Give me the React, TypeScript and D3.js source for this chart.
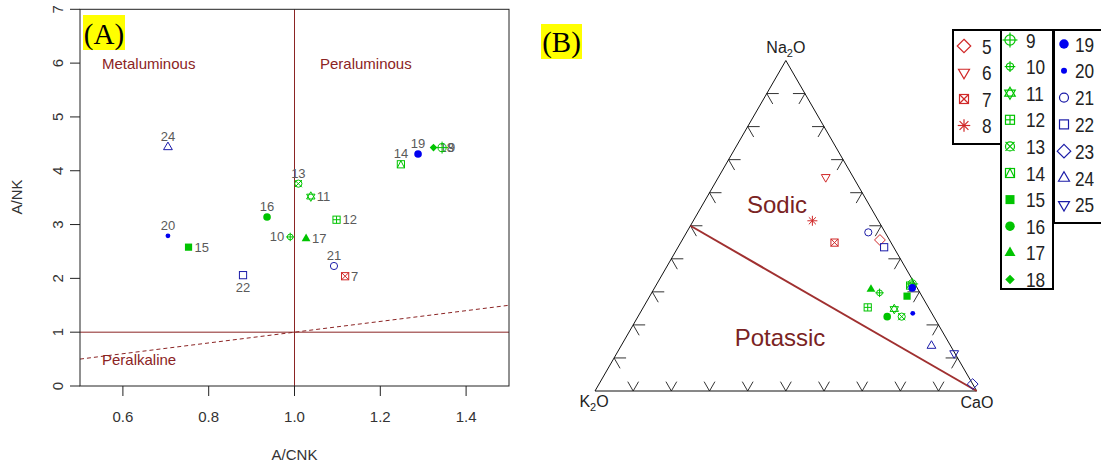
import React from "react";
import * as d3 from "d3";

// ---------- Panel A data (A/CNK vs A/NK) ----------
const samplesA = [24, 20, 15, 22, 16, 10, 13, 11, 17, 12, 21, 7, 14, 19, 18, 9];
const acnkA = [0.705, 0.705, 0.753, 0.88, 0.936, 0.99, 1.009, 1.038, 1.027, 1.098, 1.092, 1.118, 1.248, 1.288, 1.324, 1.344];
const ankA = [4.44, 2.79, 2.58, 2.06, 3.14, 2.77, 3.76, 3.52, 2.74, 3.09, 2.23, 2.04, 4.12, 4.31, 4.43, 4.43];
const xTicksA = [0.6, 0.8, 1.0, 1.2, 1.4];
const yTicksA = [0, 1, 2, 3, 4, 5, 6, 7];

// ---------- Panel B data (ternary Na2O - K2O - CaO) ----------
const samplesB = [5, 6, 7, 8, 9, 10, 11, 12, 13, 14, 15, 16, 17, 18, 19, 20, 21, 22, 23, 24, 25];
const na2oB = [0.457, 0.647, 0.449, 0.515, 0.324, 0.297, 0.248, 0.253, 0.225, 0.319, 0.287, 0.225, 0.308, 0.316, 0.312, 0.235, 0.48, 0.435, 0.021, 0.137, 0.114];
const k2oB = [0.025, 0.072, 0.148, 0.173, 0.007, 0.106, 0.092, 0.159, 0.084, 0.015, 0.039, 0.122, 0.123, 0.009, 0.013, 0.05, 0.044, 0.025, 0.0, 0.05, 0.002];
const caoB = [0.518, 0.281, 0.403, 0.312, 0.669, 0.597, 0.66, 0.588, 0.691, 0.666, 0.674, 0.653, 0.569, 0.675, 0.675, 0.715, 0.476, 0.54, 0.979, 0.813, 0.884];
const ternTicks = [0.1, 0.2, 0.3, 0.4, 0.5, 0.6, 0.7, 0.8, 0.9];

const legendGroups = [
  [5, 6, 7, 8],
  [9, 10, 11, 12, 13, 14, 15, 16, 17, 18],
  [19, 20, 21, 22, 23, 24, 25],
];

// label placement in panel A (R-style pos: 1 below, 2 left, 3 above, 4 right)
const labelPosA: Record<number, number> = {
  24: 3, 20: 3, 15: 4, 22: 1, 16: 3, 10: 2, 13: 3, 11: 4, 17: 4, 12: 4, 21: 3, 7: 4, 14: 3, 19: 3, 18: 4, 9: 4,
};

const RED = "#D02828";
const GREEN = "#00C400";
const BLUE = "#0000F0";
const NAVY = "#1C1CA8";
const DARKRED = "#8B2424";

function colorOf(s: number) {
  if (s <= 8) return RED;
  if (s <= 18) return GREEN;
  if (s <= 20) return BLUE;
  return NAVY;
}

function Sym({ pch, x, y, s, color, sw = 1 }: { pch: number; x: number; y: number; s: number; color: string; sw?: number }) {
  const r = s / 2;
  const common = { stroke: color, strokeWidth: sw, fill: "none" } as any;
  const poly = (pts: number[][]) => pts.map((p) => `${x + p[0]},${y + p[1]}`).join(" ");
  const up = [[0, -r * 1.25], [r * 1.1, r * 0.65], [-r * 1.1, r * 0.65]];
  const down = [[-r * 1.1, -r * 0.65], [r * 1.1, -r * 0.65], [0, r * 1.25]];
  const dia = (k: number) => [[0, -r * k], [r * k, 0], [0, r * k], [-r * k, 0]];
  const sq = (k: number) => <rect x={x - r * k} y={y - r * k} width={2 * r * k} height={2 * r * k} {...common} />;
  switch (pch) {
    case 5:
    case 23:
      return <polygon points={poly(dia(1.35))} {...common} />;
    case 6:
    case 25:
      return <polygon points={poly(down)} {...common} />;
    case 24:
      return <polygon points={poly(up)} {...common} />;
    case 7:
      return (
        <g>
          {sq(0.9)}
          <line x1={x - r * 0.9} y1={y - r * 0.9} x2={x + r * 0.9} y2={y + r * 0.9} {...common} />
          <line x1={x - r * 0.9} y1={y + r * 0.9} x2={x + r * 0.9} y2={y - r * 0.9} {...common} />
        </g>
      );
    case 8: {
      const L = r * 1.25;
      return (
        <g>
          {[0, 45, 90, 135].map((a) => {
            const t = (a * Math.PI) / 180;
            return <line key={a} x1={x - L * Math.cos(t)} y1={y - L * Math.sin(t)} x2={x + L * Math.cos(t)} y2={y + L * Math.sin(t)} {...common} />;
          })}
        </g>
      );
    }
    case 9:
    case 10: {
      const k = pch === 9 ? 1.2 : 0.85;
      return (
        <g>
          <circle cx={x} cy={y} r={r * k * 0.85} {...common} />
          <line x1={x - r * k * 1.25} y1={y} x2={x + r * k * 1.25} y2={y} {...common} />
          <line x1={x} y1={y - r * k * 1.25} x2={x} y2={y + r * k * 1.25} {...common} />
        </g>
      );
    }
    case 11:
      return (
        <g>
          <polygon points={poly([[0, -r * 1.2], [r * 1.05, r * 0.6], [-r * 1.05, r * 0.6]])} {...common} />
          <polygon points={poly([[0, r * 1.2], [r * 1.05, -r * 0.6], [-r * 1.05, -r * 0.6]])} {...common} />
        </g>
      );
    case 12:
      return (
        <g>
          {sq(0.9)}
          <line x1={x - r * 0.9} y1={y} x2={x + r * 0.9} y2={y} {...common} />
          <line x1={x} y1={y - r * 0.9} x2={x} y2={y + r * 0.9} {...common} />
        </g>
      );
    case 13:
      return (
        <g>
          <circle cx={x} cy={y} r={r * 0.9} {...common} />
          <line x1={x - r * 0.9} y1={y - r * 0.9} x2={x + r * 0.9} y2={y + r * 0.9} {...common} />
          <line x1={x - r * 0.9} y1={y + r * 0.9} x2={x + r * 0.9} y2={y - r * 0.9} {...common} />
        </g>
      );
    case 14:
      return (
        <g>
          {sq(0.9)}
          <polyline points={poly([[-r * 0.9, r * 0.9], [0, -r * 0.9], [r * 0.9, r * 0.9]])} {...common} />
        </g>
      );
    case 15:
      return <rect x={x - r * 0.9} y={y - r * 0.9} width={1.8 * r} height={1.8 * r} fill={color} />;
    case 16:
    case 19:
      return <circle cx={x} cy={y} r={r * 0.95} fill={color} />;
    case 17:
      return <polygon points={poly(up)} fill={color} />;
    case 18:
      return <polygon points={poly(dia(0.95))} fill={color} />;
    case 20:
      return <circle cx={x} cy={y} r={r * 0.6} fill={color} />;
    case 21:
      return <circle cx={x} cy={y} r={r * 0.9} {...common} />;
    case 22:
      return sq(0.9);
    default:
      return <circle cx={x} cy={y} r={r} {...common} />;
  }
}

function PanelA() {
  const x = d3.scaleLinear().domain([0.5, 1.5]).range([80, 509]);
  const y = d3.scaleLinear().domain([0, 7]).range([386, 9.3]);
  const font = "Arial, 'Liberation Sans', sans-serif";
  return (
    <g>
      <line x1={x(1)} y1={y(0)} x2={x(1)} y2={y(7)} stroke={DARKRED} strokeWidth={1} />
      <line x1={x(0.5)} y1={y(1)} x2={x(1.5)} y2={y(1)} stroke={DARKRED} strokeWidth={1} />
      <line x1={x(0.5)} y1={y(0.5)} x2={x(1.5)} y2={y(1.5)} stroke={DARKRED} strokeWidth={1} strokeDasharray="4,3" />
      <rect x={x(0.5)} y={y(7)} width={x(1.5) - x(0.5)} height={y(0) - y(7)} fill="none" stroke="#222" strokeWidth={1} />
      {xTicksA.map((t) => (
        <g key={t}>
          <line x1={x(t)} x2={x(t)} y1={y(0)} y2={y(0) + 10} stroke="#222" />
          <text x={x(t)} y={y(0) + 36} fontSize={15} fontFamily={font} textAnchor="middle" fill="#333">
            {t.toFixed(1)}
          </text>
        </g>
      ))}
      {yTicksA.map((t) => (
        <g key={t}>
          <line x1={x(0.5) - 10} x2={x(0.5)} y1={y(t)} y2={y(t)} stroke="#222" />
          <text transform={`translate(${x(0.5) - 17},${y(t)}) rotate(-90)`} fontSize={15} fontFamily={font} textAnchor="middle" fill="#333">
            {t}
          </text>
        </g>
      ))}
      <text x={x(1)} y={460} fontSize={15} fontFamily={font} textAnchor="middle" fill="#333">A/CNK</text>
      <text transform={`translate(22,197) rotate(-90)`} fontSize={15} fontFamily={font} textAnchor="middle" fill="#333">A/NK</text>
      <text x={102} y={69} fontSize={15} fontFamily={font} fill={DARKRED}>Metaluminous</text>
      <text x={320} y={69} fontSize={15} fontFamily={font} fill={DARKRED}>Peraluminous</text>
      <text x={102} y={365} fontSize={15} fontFamily={font} fill={DARKRED}>Peralkaline</text>
      <rect x={83} y={15} width={42} height={35} fill="#FFFF00" />
      <text x={104} y={44} fontSize={29} fontFamily="'Liberation Serif', 'Times New Roman', serif" textAnchor="middle" fill="#000">(A)</text>
      {samplesA.map((s, i) => {
        const px = x(acnkA[i]);
        const py = y(ankA[i]);
        const pos = labelPosA[s];
        let lx = px, ly = py + 4.5, anchor = "middle";
        if (pos === 1) ly = py + 17;
        if (pos === 3) ly = py - 6;
        if (pos === 4) { lx = px + 6; anchor = "start"; }
        if (pos === 2) { lx = px - 6; anchor = "end"; }
        return (
          <g key={s}>
            <Sym pch={s} x={px} y={py} s={8} color={colorOf(s)} />
            <text x={lx} y={ly} fontSize={13} fontFamily={font} textAnchor={anchor} fill="#5a5a5a">{s}</text>
          </g>
        );
      })}
    </g>
  );
}

function PanelB() {
  const X = d3.scaleLinear().domain([0, 1]).range([595, 976.7]);
  const Y = d3.scaleLinear().domain([0, 1]).range([391, 60.5]);
  const px = (na: number, ca: number) => X(ca + na / 2);
  const py = (na: number) => Y(na);
  const font = "Arial, 'Liberation Sans', sans-serif";
  const L = 12;
  const c30 = 0.5, s60 = 0.866;
  const tickColor = "#333";
  const ticks: JSX.Element[] = [];
  ternTicks.forEach((t, i) => {
    const bx = px(0, t), by = py(0);
    ticks.push(<polyline key={`b${i}`} points={`${bx - L * c30 * 0.9},${by - L * s60 * 0.9} ${bx},${by} ${bx + L * c30 * 0.9},${by - L * s60 * 0.9}`} fill="none" stroke={tickColor} />);
    const lx = px(t, 0), ly = py(t);
    ticks.push(<polyline key={`l${i}`} points={`${lx + L},${ly} ${lx},${ly} ${lx + L * c30},${ly + L * s60}`} fill="none" stroke={tickColor} />);
    const rx = px(t, 1 - t), ry = py(t);
    ticks.push(<polyline key={`r${i}`} points={`${rx - L},${ry} ${rx},${ry} ${rx - L * c30},${ry + L * s60}`} fill="none" stroke={tickColor} />);
  });
  const A = [px(0, 0), py(0)];
  const B = [px(0, 1), py(0)];
  const C = [px(1, 0), py(1)];
  return (
    <g>
      {ticks}
      <polygon points={`${A} ${B} ${C}`} fill="none" stroke="#111" strokeWidth={1} />
      <line x1={px(0.5, 0)} y1={py(0.5)} x2={px(0, 1)} y2={py(0)} stroke="#A03030" strokeWidth={2} />
      <text x={777} y={213} fontSize={24} fontFamily={font} textAnchor="middle" fill="#7A2323">Sodic</text>
      <text x={780} y={346} fontSize={24} fontFamily={font} textAnchor="middle" fill="#7A2323">Potassic</text>
      <text x={C[0]} y={53} fontSize={16} fontFamily={font} textAnchor="middle" fill="#222">
        Na<tspan fontSize={11} dy={4}>2</tspan><tspan dy={-4}>O</tspan>
      </text>
      <text x={594} y={407} fontSize={16} fontFamily={font} textAnchor="middle" fill="#222">
        K<tspan fontSize={11} dy={4}>2</tspan><tspan dy={-4}>O</tspan>
      </text>
      <text x={977} y={408} fontSize={16} fontFamily={font} textAnchor="middle" fill="#222">CaO</text>
      <rect x={541} y={24} width={41} height={35} fill="#FFFF00" />
      <text x={561.5} y={52} fontSize={29} fontFamily="'Liberation Serif', 'Times New Roman', serif" textAnchor="middle" fill="#000">(B)</text>
      {samplesB.map((s, i) => (
        <Sym key={s} pch={s} x={px(na2oB[i], caoB[i])} y={py(na2oB[i])} s={8} color={colorOf(s)} />
      ))}
    </g>
  );
}

function Legend() {
  const boxes = [
    { x0: 953, x1: 1001, y0: 30, y1: 144, sx: 964, tx: 982, first: 46, step: 26.5 },
    { x0: 1001, x1: 1053, y0: 30, y1: 289, sx: 1010, tx: 1026, first: 40, step: 26.6 },
    { x0: 1054, x1: 1110, y0: 30, y1: 223, sx: 1064, tx: 1075, first: 44, step: 26.8 },
  ];
  const font = "Arial, 'Liberation Sans', sans-serif";
  return (
    <g>
      {legendGroups.map((g, gi) => {
        const b = boxes[gi];
        return (
          <g key={gi}>
            <rect x={b.x0} y={b.y0} width={b.x1 - b.x0} height={b.y1 - b.y0} fill="#fff" stroke="#000" strokeWidth={2} />
            {g.map((s, i) => {
              const yy = b.first + i * b.step;
              return (
                <g key={s}>
                  <Sym pch={s} x={b.sx} y={yy} s={10} color={colorOf(s)} sw={1.2} />
                  <text transform={`translate(${b.tx},${yy + 7.5}) scale(0.82,1)`} fontSize={21} fontFamily={font} fill="#222">{s}</text>
                </g>
              );
            })}
          </g>
        );
      })}
    </g>
  );
}

export default function App() {
  return (
    <svg width={1101} height={466} style={{ position: "absolute", left: 0, top: 0, background: "#fff" }}>
      <rect x={0} y={0} width={1101} height={466} fill="#fff" />
      <PanelA />
      <PanelB />
      <Legend />
    </svg>
  );
}
